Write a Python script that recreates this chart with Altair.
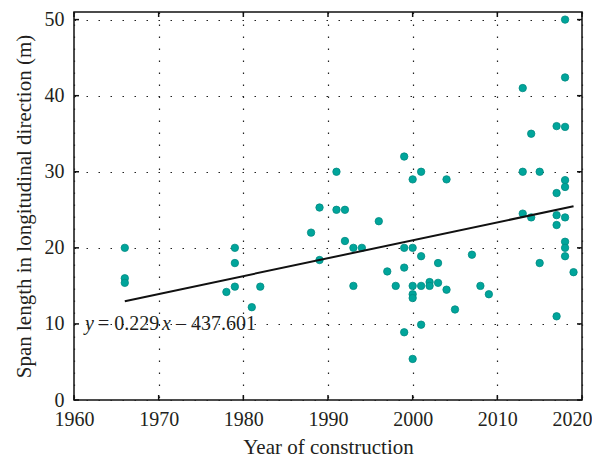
import altair as alt
import pandas as pd

# ---- data ----
years = [1966, 1966, 1966, 1978, 1979, 1979, 1979, 1981, 1982, 1988,
         1989, 1989, 1991, 1991, 1992, 1992, 1993, 1993, 1994, 1996,
         1997, 1998, 1999, 1999, 1999, 1999, 2000, 2000, 2000, 2000,
         2000, 2000, 2001, 2001, 2001, 2001, 2002, 2002, 2003, 2003,
         2004, 2004, 2005, 2007, 2008, 2009, 2013, 2013, 2013, 2014,
         2014, 2015, 2015, 2017, 2017, 2017, 2017, 2017, 2018, 2018,
         2018, 2018, 2018, 2018, 2018, 2018, 2018, 2019]
spans = [20, 16, 15.4, 14.2, 20, 18, 14.9, 12.2, 14.9, 22,
         25.3, 18.4, 25, 30, 25, 20.9, 20, 15, 20, 23.5,
         16.9, 15, 32, 20, 17.4, 8.9, 29, 20, 15, 13.9,
         13.4, 5.4, 30, 18.9, 15, 9.9, 15.5, 15, 18, 15.4,
         29, 14.5, 11.9, 19.1, 15, 13.9, 41, 30, 24.5, 35,
         24, 30, 18, 36, 27.2, 24.3, 23, 11, 50, 42.4,
         35.9, 28.9, 28, 24, 20.8, 20, 18.9, 16.8]

x_ticks = [1960, 1970, 1980, 1990, 2000, 2010, 2020]
y_ticks = [0, 10, 20, 30, 40, 50]
fit_extent = [1966, 2019]
eq_parts = ["y", "= 0.229", "x", "\u2013 437.601"]
eq_italic = [True, False, True, False]
eq_dx = [0, 13, 77, 91]
eq_pos = (1961.3, 10)

W, H = 508, 388
FONT = "Liberation Serif"
TICK = 5

df = pd.DataFrame({"year": years, "span": spans})
xt = pd.DataFrame({"year": x_ticks})
yt = pd.DataFrame({"span": y_ticks})

xs = alt.Scale(domain=[1960, 2020], nice=False, zero=False)
ys = alt.Scale(domain=[0, 51], nice=False)

x_axis = alt.Axis(values=x_ticks, format="d", ticks=False, domain=False, labelFlush=False,
                  labelOffset={"expr": "datum.value == 2020 ? -10 : 0"},
                  grid=True, gridColor="#222", gridDash=[1.5, 10.5], gridWidth=1.2,
                  labelFont=FONT, labelFontSize=20, labelColor="#231f20", labelPadding=9,
                  title="Year of construction", titleFont=FONT, titleFontSize=21,
                  titleFontWeight="normal", titleColor="#231f20", titlePadding=7)
y_axis = alt.Axis(values=y_ticks, ticks=False, domain=False, labelFlush=False,
                  grid=True, gridColor="#222", gridDash=[1.5, 10.5], gridWidth=1.2,
                  labelFont=FONT, labelFontSize=20, labelColor="#231f20", labelPadding=10,
                  title="Span length in longitudinal direction (m)", titleFont=FONT,
                  titleFontSize=21, titleFontWeight="normal", titleColor="#231f20",
                  titlePadding=10)

points = alt.Chart(df).mark_circle(
    size=55, color="#00a59b", opacity=1, stroke="#008a82", strokeWidth=0.8
).encode(
    x=alt.X("year:Q", scale=xs, axis=x_axis),
    y=alt.Y("span:Q", scale=ys, axis=y_axis),
)

fit = alt.Chart(df).transform_regression(
    "year", "span", method="linear", extent=fit_extent
).mark_line(color="#111", strokeWidth=2).encode(
    x=alt.X("year:Q", scale=xs),
    y=alt.Y("span:Q", scale=ys),
)

tick_style = dict(color="#111", strokeWidth=1.5)
xb = alt.Chart(xt).mark_rule(**tick_style).encode(
    x=alt.X("year:Q", scale=xs), y=alt.value(H), y2=alt.value(H - TICK))
xtp = alt.Chart(xt).mark_rule(**tick_style).encode(
    x=alt.X("year:Q", scale=xs), y=alt.value(0), y2=alt.value(TICK))
yl = alt.Chart(yt).mark_rule(**tick_style).encode(
    y=alt.Y("span:Q", scale=ys), x=alt.value(0), x2=alt.value(TICK))
yr = alt.Chart(yt).mark_rule(**tick_style).encode(
    y=alt.Y("span:Q", scale=ys), x=alt.value(W - TICK), x2=alt.value(W))

eq_layers = []
for txt, it, dx in zip(eq_parts, eq_italic, eq_dx):
    eq_layers.append(
        alt.Chart(pd.DataFrame({"year": [eq_pos[0]], "span": [eq_pos[1]], "t": [txt]}))
        .mark_text(font=FONT, fontSize=20, fontStyle="italic" if it else "normal",
                   align="left", baseline="middle", dx=dx, color="#231f20")
        .encode(x=alt.X("year:Q", scale=xs), y=alt.Y("span:Q", scale=ys), text="t:N")
    )

chart = alt.layer(points, fit, xb, xtp, yl, yr, *eq_layers).properties(
    width=W, height=H,
    autosize=alt.AutoSizeParams(type="none"),
    padding={"left": 66, "top": 4, "right": 10, "bottom": 57},
).configure_view(stroke="#111", strokeWidth=1.5)

chart.save("out.html", embed_options={"renderer": "svg", "actions": False})
